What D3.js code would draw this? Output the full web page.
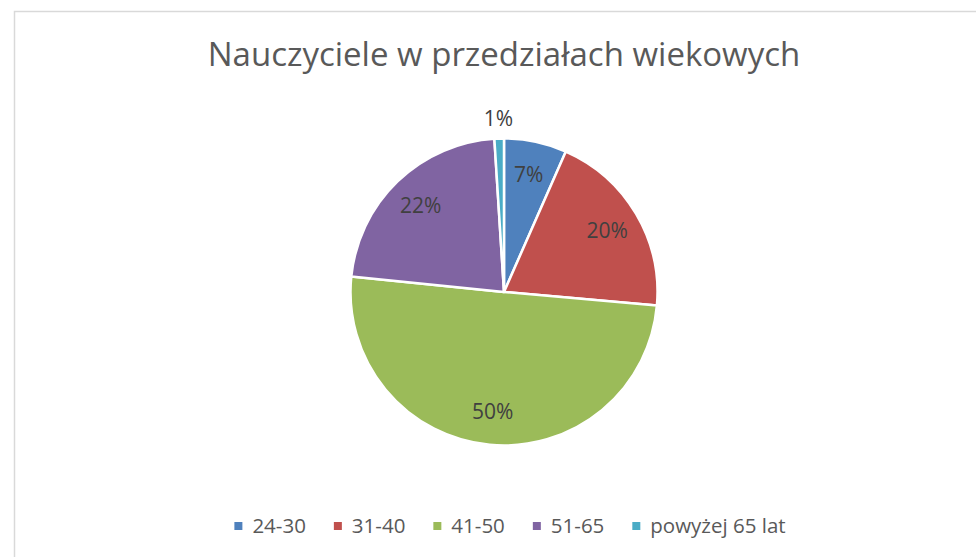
<!DOCTYPE html>
<html>
<head>
<meta charset="utf-8">
<script src="https://cdn.jsdelivr.net/npm/d3@7"></script>
<style>
  body { margin: 0; background: #fff; }
  text { font-family: "Open Sans", "Noto Sans", sans-serif; }
</style>
</head>
<body>
<svg id="chart" width="976" height="557"></svg>
<script>
// dane
const categories = ["24-30", "31-40", "41-50", "51-65", "powyżej 65 lat"];
const shares = [6.6, 19.8, 50.2, 22.4, 1.0];
const colors = ["#4f81bd", "#c0504d", "#9bbb59", "#8064a2", "#4bacc6"];
const title = "Nauczyciele w przedziałach wiekowych";

const svg = d3.select("#chart");
const cx = 504, cy = 292, radius = 153.5;

// ramka wykresu
svg.append("rect")
  .attr("x", 14.5).attr("y", 11.5)
  .attr("width", 1000).attr("height", 600)
  .attr("fill", "#fff")
  .attr("stroke", "#d9d9d9")
  .attr("stroke-width", 1.5);

// tytuł
svg.append("text")
  .attr("x", cx).attr("y", 66)
  .attr("text-anchor", "middle")
  .style("font-size", "33px")
  .style("fill", "#595959")
  .text(title);

const data = categories.map((c, i) => ({ cat: c, value: shares[i], color: colors[i] }));

const pie = d3.pie().sort(null).value(d => d.value);
const arcs = pie(data);
const arc = d3.arc().innerRadius(0).outerRadius(radius);
const labelArc = d3.arc().innerRadius(120).outerRadius(120);
const outerLabelArc = d3.arc().innerRadius(174).outerRadius(174);

const g = svg.append("g").attr("transform", `translate(${cx},${cy})`);

g.selectAll("path")
  .data(arcs)
  .enter()
  .append("path")
  .attr("d", arc)
  .attr("fill", d => d.data.color)
  .attr("stroke", "#fff")
  .attr("stroke-width", 2.5)
  .attr("stroke-linejoin", "round");

// etykiety procentowe
g.selectAll(".lbl")
  .data(arcs)
  .enter()
  .append("text")
  .attr("class", "lbl")
  .attr("transform", d => {
    const p = d.data.value < 3 ? outerLabelArc.centroid(d) : labelArc.centroid(d);
    return `translate(${p[0]},${p[1]})`;
  })
  .attr("text-anchor", "middle")
  .attr("dy", "0.36em")
  .style("font-size", "21px")
  .style("fill", "#404040")
  .text(d => Math.round(d.data.value) + "%");

// legenda
const legend = svg.append("g");
const items = legend.selectAll("g")
  .data(data)
  .enter()
  .append("g");

items.append("rect")
  .attr("width", 8).attr("height", 8)
  .attr("y", -4)
  .attr("fill", d => d.color);

items.append("text")
  .attr("x", 18)
  .attr("dy", "0.36em")
  .style("font-size", "20.5px")
  .style("fill", "#595959")
  .text(d => d.cat);

let xPos = 0;
items.each(function () {
  const w = this.getBBox().width;
  d3.select(this).attr("transform", `translate(${xPos},0)`);
  xPos += w + 28;
});
const totalW = xPos - 28;
legend.attr("transform", `translate(${510 - totalW / 2},526)`);
</script>
</body>
</html>
